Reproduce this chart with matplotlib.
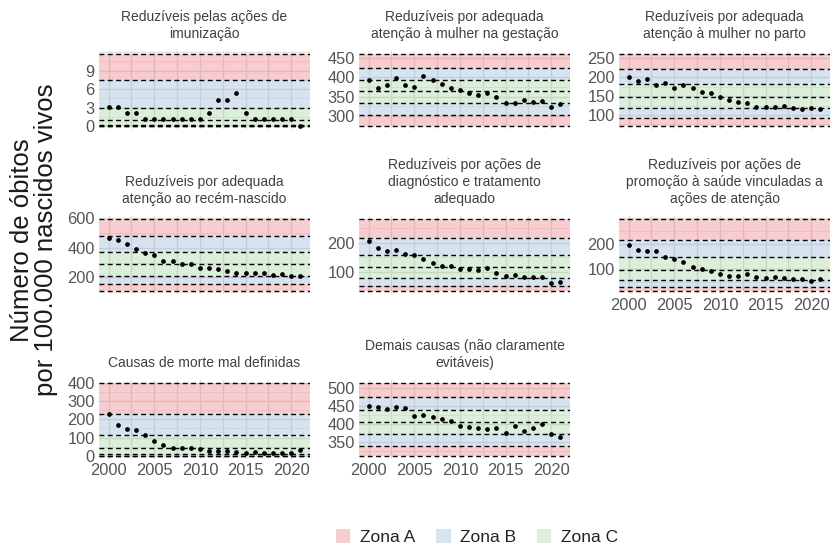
import matplotlib
matplotlib.use("Agg")
import matplotlib.pyplot as plt
from matplotlib.patches import Patch

plt.rcParams['font.family'] = ['Liberation Sans', 'DejaVu Sans']

anos = list(range(2000, 2022))

# taxas por 100.000 nascidos vivos, 2000-2021
imunizacao = [3.1, 3.1, 2.1, 2.1, 1.1, 1.1, 1.1, 1.1, 1.1, 1.1, 1.1,
              2.1, 4.2, 4.2, 5.3, 2.1, 1.1, 1.1, 1.1, 1.1, 1.1, 0.0]
gestacao = [394, 373, 381, 397, 379, 375, 403, 393, 383, 373, 367,
            360, 353, 360, 350, 333, 334, 340, 336, 339, 322, 330]
parto = [199, 190, 195, 178, 184, 172, 179, 171, 160, 157, 148,
         140, 134, 131, 122, 122, 122, 124, 118, 115, 118, 115]
recem_nascido = [468, 453, 424, 390, 363, 351, 310, 310, 290, 290, 265,
                 265, 256, 245, 231, 231, 231, 227, 216, 220, 209, 209]
diagnostico = [206, 182, 173, 176, 161, 156, 143, 131, 120, 120, 108,
               109, 106, 112, 96, 85, 88, 80, 82, 82, 59, 64]
promocao = [196, 177, 172, 172, 148, 142, 127, 110, 100, 92, 84,
            74, 75, 82, 69, 65, 71, 65, 61, 61, 56, 63]
mal_definidas = [231, 171, 148, 144, 116, 81, 59, 46, 46, 43, 37,
                 28, 28, 28, 22, 18, 22, 18, 18, 18, 15, 33]
demais = [450, 447, 441, 448, 444, 422, 425, 418, 413, 408, 394,
          392, 388, 385, 388, 375, 394, 381, 388, 400, 372, 362]

# limites das zonas (de cima para baixo): +3, +2, +1, centro, -1, -2, -3
lim_imunizacao = [11.7, 7.5, 3.0, 1.0, 0.1, 0.0, 0.0]
lim_gestacao = [460, 424, 394, 364, 333, 302, 274]
lim_parto = [261, 221, 182, 148, 119, 93, 71]
lim_recem_nascido = [593, 480, 374, 288, 209, 154, 109]
lim_diagnostico = [282, 218, 159, 115, 77, 49, 33]
lim_promocao = [296, 213, 149, 97, 59, 31, 16]
lim_mal_definidas = [398, 231, 113, 46, 9, 2, 0]
lim_demais = [514, 475, 439, 406, 372, 338, 310]

titulos = [
    "Reduzíveis pelas ações de\nimunização",
    "Reduzíveis por adequada\natenção à mulher na gestação",
    "Reduzíveis por adequada\natenção à mulher no parto",
    "Reduzíveis por adequada\natenção ao recém-nascido",
    "Reduzíveis por ações de\ndiagnóstico e tratamento\nadequado",
    "Reduzíveis por ações de\npromoção à saúde vinculadas a\nações de atenção",
    "Causas de morte mal definidas",
    "Demais causas (não claramente\nevitáveis)",
]
series = [imunizacao, gestacao, parto, recem_nascido, diagnostico,
          promocao, mal_definidas, demais]
limites = [lim_imunizacao, lim_gestacao, lim_parto, lim_recem_nascido,
           lim_diagnostico, lim_promocao, lim_mal_definidas, lim_demais]
yticks = [[0, 3, 6, 9], [300, 350, 400, 450], [100, 150, 200, 250],
          [200, 400, 600], [100, 200], [100, 200], [0, 100, 200, 300, 400],
          [350, 400, 450, 500]]
xticks = [2000, 2005, 2010, 2015, 2020]

zonas = ["Zona A", "Zona B", "Zona C"]
cores = {"Zona A": (0.91, 0.28, 0.31, 0.27),
         "Zona B": (0.43, 0.62, 0.79, 0.27),
         "Zona C": (0.50, 0.77, 0.48, 0.27)}

W, H = 830, 548
fig = plt.figure(figsize=(W / 100, H / 100), dpi=100)

colunas = [(99, 310), (359, 570), (619, 830)]
linhas = [(54, 126), (219, 291), (383, 456)]
m = 0.04

for i, (titulo, y, lim, yt) in enumerate(zip(titulos, series, limites, yticks)):
    r, c = divmod(i, 3)
    x0, x1 = colunas[c]
    y0, y1 = linhas[r]
    h = (y1 - y0) * (1 + 2 * m)
    top = y0 - (y1 - y0) * m
    ax = fig.add_axes([x0 / W, 1 - (top + h) / H, (x1 - x0) / W, h / H])

    hi, lo = lim[0], lim[-1]
    R = hi - lo
    ax.set_xlim(1998.95, 2022.05)
    ax.set_ylim(lo - m * R, hi + m * R)

    # grade de fundo
    for gx in [2000 + 2.5 * k for k in range(9)]:
        ax.axvline(gx, color='#e2e2e2', lw=1.0, zorder=0)
    passo = yt[1] - yt[0]
    gy = yt[0] - passo
    while gy <= hi + passo:
        ax.axhline(gy, color='#e2e2e2', lw=1.0, zorder=0)
        ax.axhline(gy + passo / 2, color='#ebebeb', lw=0.6, zorder=0)
        gy += passo

    # faixas das zonas
    faixas = [(lim[0], lim[1], "Zona A"), (lim[1], lim[2], "Zona B"),
              (lim[2], lim[4], "Zona C"), (lim[4], lim[5], "Zona B"),
              (lim[5], lim[6], "Zona A")]
    for a, b, z in faixas:
        ax.axhspan(b, a, color=cores[z], lw=0, zorder=1)
    for v in lim:
        ax.axhline(v, color='black', lw=1.0, ls=(0, (3.5, 2.5)), zorder=2)

    ax.plot(anos, y, 'o', color='black', ms=2.4, zorder=3)

    ax.set_yticks(yt)
    ax.set_xticks(xticks)
    ax.tick_params(length=0, labelsize=11.8, labelcolor='#555555', pad=3)
    if i not in (5, 6, 7):
        ax.set_xticklabels([])
    for s in ax.spines.values():
        s.set_visible(False)
    ax.set_title(titulo, fontsize=10, color='#404040', pad=9.5, linespacing=1.28)

fig.text(34 / W, 1 - 240 / H, "Número de óbitos\npor 100.000 nascidos vivos",
         rotation=90, ha='center', va='center', fontsize=18.5, color='#1a1a1a',
         linespacing=0.95)

handles = [Patch(facecolor=cores[z], edgecolor='none', label=z) for z in zonas]
fig.legend(handles=handles, loc='center', bbox_to_anchor=(477 / W, 1 - 537 / H),
           ncol=3, frameon=False, fontsize=12.5, handlelength=0.86,
           handleheight=0.92, columnspacing=1.15, handletextpad=0.57,
           labelcolor='#222222')

fig.savefig("out.png", dpi=100)
